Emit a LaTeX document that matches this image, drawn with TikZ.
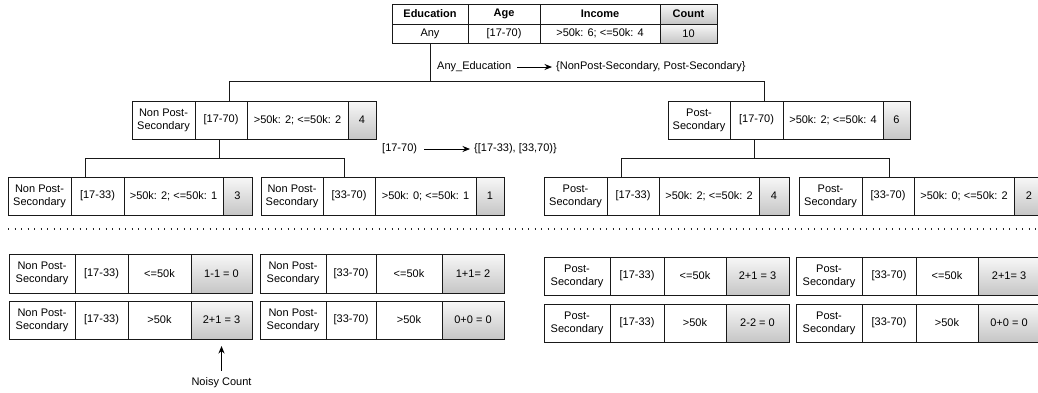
\documentclass[tikz,border=0pt]{standalone}
\usepackage{fontspec}
\setmainfont{Liberation Sans}
\usetikzlibrary{arrows.meta}
% style, name, x0, x1, y0, y1, text
\newcommand\cel[7]{%
  \pgfmathsetmacro\cw{#4-#3}\pgfmathsetmacro\ch{#6-#5}%
  \pgfmathsetmacro\cx{(#3+#4)/2}\pgfmathsetmacro\cy{(#5+#6)/2}%
  \node[#1, minimum width=\cw pt, minimum height=\ch pt] (#2) at (\cx,\cy) {#7};}
\begin{document}
\begin{tikzpicture}[x=1pt,y=-1pt,
  cell/.style={draw=black!90, line width=0.95pt, fill=white, inner sep=0pt, outer sep=0pt,
    align=center, font=\fontsize{11}{13}\selectfont},
  cnt/.style={cell, top color=gray!6, bottom color=gray!45},
  lab/.style={inner sep=0pt, font=\fontsize{11}{13}\selectfont},
  conn/.style={draw=black!90, line width=0.95pt},
  arr/.style={draw=black, line width=0.8pt, -{Stealth[length=7.5pt,width=6pt]}},
  dotline/.style={draw=black!85, line width=1.1pt, dash pattern=on 1pt off 5.5pt}]
\useasboundingbox (0,0) rectangle (1038,392);

% top table
\cel{cell}{tEh}{392}{468}{4}{24}{\bfseries Education}
\cel{cell}{tAh}{468}{540}{4}{24}{\bfseries Age}
\cel{cell}{tIh}{540}{660}{4}{24}{\bfseries Income}
\cel{cnt}{tCh}{660}{717}{4}{24}{\bfseries Count}
\cel{cell}{tE}{392}{468}{24}{43}{Any}
\cel{cell}{tA}{468}{540}{24}{43}{[17-70)}
\cel{cell}{tI}{540}{660}{24}{43}{>50k: 6; <=50k: 4}
\cel{cnt}{tC}{660}{717}{24}{43}{10}

% middle level
\cel{cell}{mLa}{132}{195}{101}{139}{Non Post-\\Secondary}
\cel{cell}{mLb}{195}{247}{101}{139}{[17-70)}
\cel{cell}{mLc}{247}{348}{101}{139}{>50k: 2; <=50k: 2}
\cel{cnt}{mLd}{348}{376}{101}{139}{4}
\cel{cell}{mRa}{668}{730}{101}{139}{Post-\\Secondary}
\cel{cell}{mRb}{730}{783}{101}{139}{[17-70)}
\cel{cell}{mRc}{783}{883}{101}{139}{>50k: 2; <=50k: 4}
\cel{cnt}{mRd}{883}{910}{101}{139}{6}

% lower level
\cel{cell}{l1a}{8}{71}{177}{215}{Non Post-\\Secondary}
\cel{cell}{l1b}{71}{124}{177}{215}{[17-33)}
\cel{cell}{l1c}{124}{223}{177}{215}{>50k: 2; <=50k: 1}
\cel{cnt}{l1d}{223}{252}{177}{215}{3}
\cel{cell}{l2a}{261}{323}{177}{215}{Non Post-\\Secondary}
\cel{cell}{l2b}{323}{375}{177}{215}{[33-70)}
\cel{cell}{l2c}{375}{476}{177}{215}{>50k: 0; <=50k: 1}
\cel{cnt}{l2d}{476}{504}{177}{215}{1}
\cel{cell}{l3a}{544}{607}{177}{215}{Post-\\Secondary}
\cel{cell}{l3b}{607}{659}{177}{215}{[17-33)}
\cel{cell}{l3c}{659}{759}{177}{215}{>50k: 2; <=50k: 2}
\cel{cnt}{l3d}{759}{789}{177}{215}{4}
\cel{cell}{l4a}{799}{862}{177}{215}{Post-\\Secondary}
\cel{cell}{l4b}{862}{914}{177}{215}{[33-70)}
\cel{cell}{l4c}{914}{1014}{177}{215}{>50k: 0; <=50k: 2}
\cel{cnt}{l4d}{1014}{1044}{177}{215}{2}

% connectors
\coordinate (jL) at (229,81);
\coordinate (jR) at (764,81);
\draw[conn] (tE.south) -- (tE.south |- jL);
\draw[conn] (jL) -- (jR);
\draw[conn] (jL) -- (jL |- mLb.north);
\draw[conn] (jR) -- (jR |- mRb.north);
\coordinate (kL) at (219,158);
\coordinate (kL1) at (85,158);
\coordinate (kL2) at (344,158);
\draw[conn] (kL |- mLb.south) -- (kL);
\draw[conn] (kL1) -- (kL2);
\draw[conn] (kL1) -- (kL1 |- l1b.north);
\draw[conn] (kL2) -- (kL2 |- l2b.north);
\coordinate (kR) at (754,158);
\coordinate (kR1) at (621,158);
\coordinate (kR2) at (889,158);
\draw[conn] (kR |- mRb.south) -- (kR);
\draw[conn] (kR1) -- (kR2);
\draw[conn] (kR1) -- (kR1 |- l3b.north);
\draw[conn] (kR2) -- (kR2 |- l4b.north);

% split labels
\node[lab, anchor=west] (anyE) at (437,67) {Any\_Education};
\node[lab, anchor=west] (anyS) at (556,67) {\{NonPost-Secondary, Post-Secondary\}};
\draw[arr] ([xshift=6pt]anyE.east) -- ([xshift=-4pt]anyS.west);
\node[lab, anchor=west] (ageA) at (382,149) {[17-70)};
\node[lab, anchor=west] (ageS) at (474,149) {\{[17-33), [33,70)\}};
\draw[arr] ([xshift=7pt]ageA.east) -- ([xshift=-4pt]ageS.west);

% dotted separator
\coordinate (d0) at (8,229);
\coordinate (d1) at (1040,229);
\draw[dotline] (d0) -- (d1);

% noisy tables, left
\cel{cell}{b1a1}{9}{75}{254}{293}{Non Post-\\Secondary}
\cel{cell}{b1b1}{75}{128}{254}{293}{[17-33)}
\cel{cell}{b1c1}{128}{191}{254}{293}{<=50k}
\cel{cnt}{b1d1}{191}{252}{254}{293}{1-1 = 0}
\cel{cell}{b1a2}{9}{75}{301}{339}{Non Post-\\Secondary}
\cel{cell}{b1b2}{75}{128}{301}{339}{[17-33)}
\cel{cell}{b1c2}{128}{191}{301}{339}{>50k}
\cel{cnt}{b1d2}{191}{252}{301}{339}{2+1 = 3}
\cel{cell}{b2a1}{260}{326}{254}{293}{Non Post-\\Secondary}
\cel{cell}{b2b1}{326}{376}{254}{293}{[33-70)}
\cel{cell}{b2c1}{376}{442}{254}{293}{<=50k}
\cel{cnt}{b2d1}{442}{504}{254}{293}{1+1= 2}
\cel{cell}{b2a2}{260}{326}{301}{339}{Non Post-\\Secondary}
\cel{cell}{b2b2}{326}{376}{301}{339}{[33-70)}
\cel{cell}{b2c2}{376}{442}{301}{339}{>50k}
\cel{cnt}{b2d2}{442}{504}{301}{339}{0+0 = 0}

% noisy tables, right
\cel{cell}{b3a1}{544}{610}{257}{295}{Post-\\Secondary}
\cel{cell}{b3b1}{610}{664}{257}{295}{[17-33)}
\cel{cell}{b3c1}{664}{726}{257}{295}{<=50k}
\cel{cnt}{b3d1}{726}{789}{257}{295}{2+1 = 3}
\cel{cell}{b3a2}{544}{610}{304}{342}{Post-\\Secondary}
\cel{cell}{b3b2}{610}{664}{304}{342}{[17-33)}
\cel{cell}{b3c2}{664}{726}{304}{342}{>50k}
\cel{cnt}{b3d2}{726}{789}{304}{342}{2-2 = 0}
\cel{cell}{b4a1}{796}{862}{257}{295}{Post-\\Secondary}
\cel{cell}{b4b1}{862}{916}{257}{295}{[33-70)}
\cel{cell}{b4c1}{916}{978}{257}{295}{<=50k}
\cel{cnt}{b4d1}{978}{1040}{257}{295}{2+1= 3}
\cel{cell}{b4a2}{796}{862}{304}{342}{Post-\\Secondary}
\cel{cell}{b4b2}{862}{916}{304}{342}{[33-70)}
\cel{cell}{b4c2}{916}{978}{304}{342}{>50k}
\cel{cnt}{b4d2}{978}{1040}{304}{342}{0+0 = 0}

% noisy count pointer
\node[lab] (noisy) at (221.5,383) {Noisy Count};
\draw[arr] ([yshift=7pt]noisy.north) -- ([yshift=-7pt]b1d2.south);
\end{tikzpicture}
\end{document}
